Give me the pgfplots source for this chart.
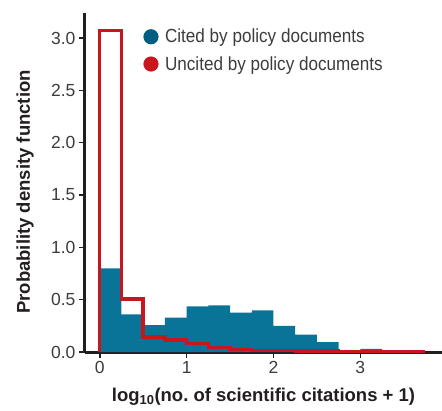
\documentclass[border=0pt]{standalone}
\usepackage{pgfplots}
\pgfplotsset{compat=1.18}
\usepackage{fontspec}
\setmainfont{Liberation Sans}
\newfontfamily\legfont{Liberation Sans}[FakeStretch=0.9]
\definecolor{citedblue}{RGB}{10,116,152}
\definecolor{dotblue}{RGB}{0,94,130}
\definecolor{uncitedred}{RGB}{200,22,30}
\definecolor{inkblack}{RGB}{35,31,32}
\definecolor{ticktext}{RGB}{60,60,60}

\begin{document}
\begin{tikzpicture}
\useasboundingbox (-85pt,-58pt) rectangle (357pt,352pt);
\begin{axis}[
    at={(0,0)}, anchor=south west,
    scale only axis,
    width=357pt, height=339pt,
    xmin=-0.17, xmax=3.94,
    ymin=0, ymax=3.24,
    axis lines*=left,
    axis line style={line width=3pt, inkblack},
    tick align=outside,
    major tick length=6pt,
    tick style={line width=1.5pt, inkblack},
    xtick={0,1,2,3},
    ytick={0,0.5,1.0,1.5,2.0,2.5,3.0},
    /pgf/number format/assume math mode=true,
    yticklabel style={/pgf/number format/fixed, /pgf/number format/fixed zerofill, /pgf/number format/precision=1},
    tick label style={font=\fontsize{17.5}{20}\selectfont, text=ticktext},
    xlabel={log\textsubscript{10}(no.\ of scientific citations + 1)},
    ylabel={Probability density function},
    xlabel style={font=\bfseries\fontsize{18.5}{22}\selectfont, text=inkblack,
        at={(axis description cs:0.5,-0.133)}, anchor=center},
    ylabel style={font=\bfseries\fontsize{18.5}{22}\selectfont, text=inkblack,
        at={(axis description cs:-0.168,0.472)}, anchor=center},
    legend cell align=left,
    legend style={at={(axis description cs:0.163,0.956)}, anchor=north west,
        draw=none, fill=none, font=\legfont\fontsize{19}{22}\selectfont,
        text=ticktext, row sep=10pt, inner sep=0pt,
        nodes={inner xsep=6.5pt, inner ysep=1pt}},
]
% cited: filled histogram
\addplot[fill=citedblue, draw=none, const plot mark left,
    legend image code/.code={\fill[dotblue, draw=none] (0,0) circle (7.6pt);}]
coordinates {(0,0.80)(0.25,0.36)(0.5,0.258)(0.75,0.328)(1.0,0.436)(1.25,0.446)
  (1.5,0.376)(1.75,0.398)(2.0,0.25)(2.25,0.165)(2.5,0.095)(2.75,0.006)
  (3.0,0.03)(3.25,0.005)(3.5,0.005)} \closedcycle;
% uncited: step outline
\addplot[draw=uncitedred, line width=3.4pt, line join=miter, const plot mark left,
    legend image code/.code={\fill[uncitedred, draw=none] (0,0) circle (7.6pt);}]
coordinates {(0,0)(0,3.07)(0.25,0.506)(0.5,0.143)(0.75,0.115)(1.0,0.08)
  (1.25,0.042)(1.5,0.026)(1.75,0.016)(2.0,0.012)(2.25,0.01)(2.5,0.008)
  (2.75,0.007)(3.0,0.006)(3.25,0.005)(3.5,0.004)(3.75,0.004)};
\legend{Cited by policy documents, Uncited by policy documents}
\end{axis}
\end{tikzpicture}
\end{document}
